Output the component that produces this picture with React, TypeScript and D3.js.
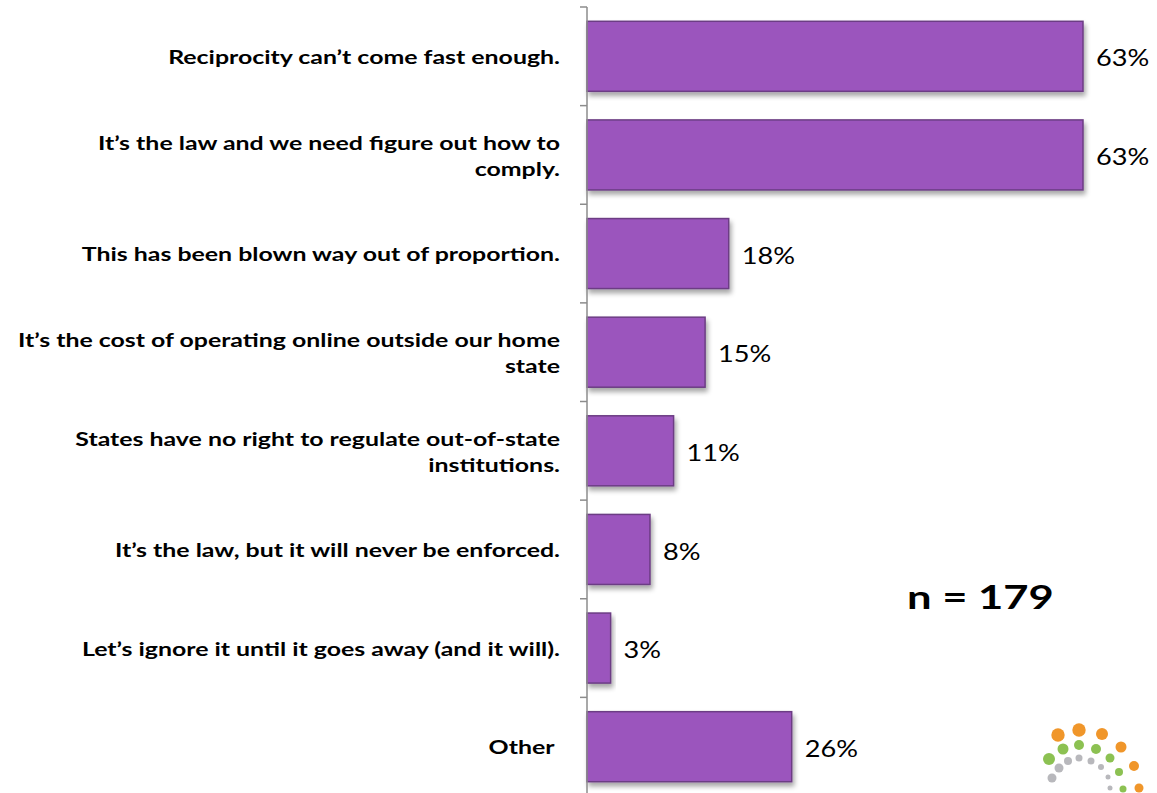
import React from "react";
import * as d3 from "d3";

const categories: string[][] = [
  ["Reciprocity can\u2019t come fast enough."],
  ["It\u2019s the law and we need figure out how to", "comply."],
  ["This has been blown way out of proportion."],
  ["It\u2019s the cost of operating online outside our home", "state"],
  ["States have no right to regulate out-of-state", "institutions."],
  ["It\u2019s the law, but it will never be enforced."],
  ["Let\u2019s ignore it until it goes away (and it will)."],
  ["Other "],
];
const values: number[] = [63, 63, 18, 15, 11, 8, 3, 26];
const valueLabels: string[] = ["63%", "63%", "18%", "15%", "11%", "8%", "3%", "26%"];
const sampleNote = "n = 179";

const logoDots: { x: number; y: number; r: number; c: string }[] = [
  { x: 1058, y: 735, r: 6.7, c: "#f0962a" },
  { x: 1079, y: 730, r: 6.7, c: "#f0962a" },
  { x: 1102, y: 734, r: 6, c: "#f0962a" },
  { x: 1121, y: 747, r: 5.5, c: "#f0962a" },
  { x: 1134, y: 766, r: 5, c: "#f0962a" },
  { x: 1139, y: 788, r: 4.5, c: "#f0962a" },
  { x: 1049, y: 759, r: 6, c: "#8cc152" },
  { x: 1063, y: 749, r: 5.5, c: "#8cc152" },
  { x: 1079, y: 745, r: 5, c: "#8cc152" },
  { x: 1096, y: 749, r: 5, c: "#8cc152" },
  { x: 1110, y: 758, r: 4.5, c: "#8cc152" },
  { x: 1119, y: 772, r: 4, c: "#8cc152" },
  { x: 1123, y: 789, r: 3.5, c: "#8cc152" },
  { x: 1052, y: 778, r: 4.5, c: "#b8b8bc" },
  { x: 1059, y: 768, r: 4.5, c: "#b8b8bc" },
  { x: 1068, y: 761, r: 4, c: "#b8b8bc" },
  { x: 1079, y: 758, r: 3.5, c: "#b8b8bc" },
  { x: 1091, y: 761, r: 3.5, c: "#b8b8bc" },
  { x: 1101, y: 767, r: 3, c: "#b8b8bc" },
  { x: 1108, y: 777, r: 2.5, c: "#b8b8bc" },
  { x: 1110, y: 788, r: 2.5, c: "#b8b8bc" },
];

const W = 1157;
const H = 793;
const axisX = 587;

export default function App() {
  const idx = categories.map((_, i) => i);
  const y = d3.scaleBand<number>().domain(idx).range([7, 796]).paddingInner(0.29).paddingOuter(0.145);
  const x = d3.scaleLinear().domain([0, 63]).range([axisX, 1083]);
  const step = y.step();
  const ticks = d3.range(categories.length + 1).map((i) => 7 + i * step);
  const font = "Lato, 'Open Sans', sans-serif";

  return (
    <svg width={W} height={H} style={{ position: "absolute", left: 0, top: 0, background: "#fff" }}>
      <defs>
        <filter id="sh" x="-10%" y="-20%" width="130%" height="160%">
          <feGaussianBlur in="SourceAlpha" stdDeviation="2.5" />
          <feOffset dx="2" dy="4" result="b" />
          <feComponentTransfer>
            <feFuncA type="linear" slope="0.35" />
          </feComponentTransfer>
          <feMerge>
            <feMergeNode />
            <feMergeNode in="SourceGraphic" />
          </feMerge>
        </filter>
      </defs>
      {idx.map((i) => (
        <rect
          key={"b" + i}
          x={x(0)}
          y={y(i)!}
          width={x(values[i]) - x(0)}
          height={y.bandwidth()}
          fill="#9b55bd"
          stroke="#6c3d84"
          strokeWidth={1.5}
          filter="url(#sh)"
        />
      ))}
      <line x1={axisX} x2={axisX} y1={7} y2={H} stroke="#8c8c8c" strokeWidth={1.5} />
      {ticks.map((t, i) => (
        <line key={"t" + i} x1={axisX - 7} x2={axisX} y1={t} y2={t} stroke="#8c8c8c" strokeWidth={1.5} />
      ))}
      {idx.map((i) => {
        const lines = categories[i];
        const cy = y(i)! + y.bandwidth() / 2;
        const lh = 26;
        const y0 = cy - ((lines.length - 1) * lh) / 2;
        return (
          <g key={"l" + i} transform={`translate(560,0) scale(1.31,1)`}>
            <text
              textAnchor="end"
              fontFamily={font}
              fontWeight="bold"
              fontSize={19}
              fill="#000"
              dominantBaseline="central"
              style={{ whiteSpace: "pre" }}
            >
              {lines.map((ln, k) => (
                <tspan key={k} x={0} y={y0 + k * lh}>
                  {ln}
                </tspan>
              ))}
            </text>
          </g>
        );
      })}
      {idx.map((i) => (
        <g key={"v" + i} transform={`translate(${x(values[i]) + 13},${y(i)! + y.bandwidth() / 2 + 1}) scale(1.18,1)`}>
          <text dominantBaseline="central" fontFamily={font} fontSize={23} fill="#000">
            {valueLabels[i]}
          </text>
        </g>
      ))}
      <g transform={`translate(907,609) scale(1.32,1)`}>
        <text fontFamily={font} fontWeight="bold" fontSize={33} fill="#000">
          {sampleNote}
        </text>
      </g>
      {logoDots.map((d, i) => (
        <circle key={"d" + i} cx={d.x} cy={d.y} r={d.r} fill={d.c} />
      ))}
    </svg>
  );
}
